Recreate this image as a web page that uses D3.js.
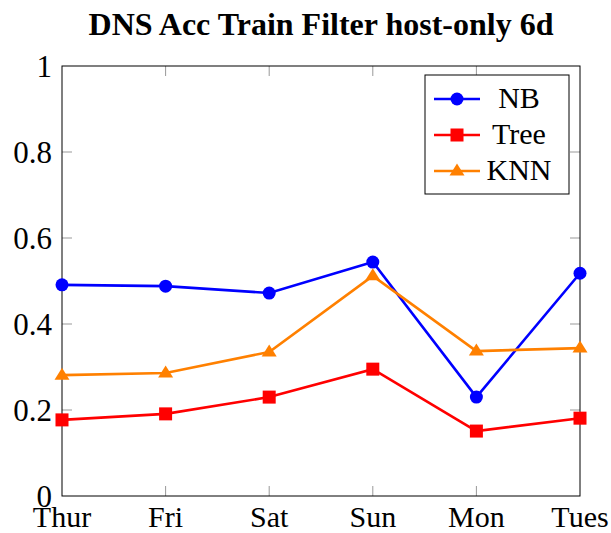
<!DOCTYPE html>
<html>
<head>
<meta charset="utf-8">
<script src="https://cdn.jsdelivr.net/npm/d3@7"></script>
<style>
  body { margin: 0; background: #fff; }
  text { font-family: "Liberation Serif", "DejaVu Serif", serif; }
</style>
</head>
<body>
<div id="chart"></div>
<script>
const days = ['Thur', 'Fri', 'Sat', 'Sun', 'Mon', 'Tues'];
const nb = [0.491, 0.488, 0.472, 0.544, 0.230, 0.518];
const tree = [0.177, 0.191, 0.230, 0.295, 0.151, 0.181];
const knn = [0.281, 0.286, 0.335, 0.512, 0.337, 0.344];
const yTicks = [0, 0.2, 0.4, 0.6, 0.8, 1];

const series = [
  { name: 'NB', values: nb, color: '#0000ff', mark: 'circle' },
  { name: 'Tree', values: tree, color: '#ff0000', mark: 'square' },
  { name: 'KNN', values: knn, color: '#ff8000', mark: 'triangle' }
];

const width = 611, height = 533;
const margin = { top: 66, right: 31, bottom: 37, left: 62 };
const innerW = width - margin.left - margin.right;
const innerH = height - margin.top - margin.bottom;

const svg = d3.select('#chart').append('svg')
  .attr('width', width)
  .attr('height', height);

const x = d3.scalePoint().domain(days).range([margin.left, width - margin.right]);
const y = d3.scaleLinear().domain([0, 1]).range([height - margin.bottom, margin.top]);

// title
svg.append('text')
  .attr('x', margin.left + innerW / 2)
  .attr('y', 35)
  .attr('text-anchor', 'middle')
  .attr('font-weight', 'bold')
  .attr('font-size', 32)
  .text('DNS Acc Train Filter host-only 6d');

// ticks (inside, both sides)
const tk = 10;
const ticks = svg.append('g').attr('stroke', '#999').attr('stroke-width', 1);
yTicks.slice(1, -1).forEach(t => {
  ticks.append('line').attr('x1', margin.left).attr('x2', margin.left + tk).attr('y1', y(t)).attr('y2', y(t));
  ticks.append('line').attr('x1', width - margin.right).attr('x2', width - margin.right - tk).attr('y1', y(t)).attr('y2', y(t));
});
days.slice(1, -1).forEach(d => {
  ticks.append('line').attr('x1', x(d)).attr('x2', x(d)).attr('y1', y(0)).attr('y2', y(0) - tk);
  ticks.append('line').attr('x1', x(d)).attr('x2', x(d)).attr('y1', y(1)).attr('y2', y(1) + tk);
});

// frame
svg.append('rect')
  .attr('x', margin.left).attr('y', margin.top)
  .attr('width', innerW).attr('height', innerH)
  .attr('fill', 'none').attr('stroke', '#000').attr('stroke-width', 1);

// tick labels
svg.append('g').selectAll('text').data(yTicks).enter().append('text')
  .attr('x', margin.left - 10)
  .attr('y', d => y(d) + 10.5)
  .attr('text-anchor', 'end')
  .attr('font-size', 31)
  .text(d => d3.format('~g')(d));

svg.append('g').selectAll('text').data(days).enter().append('text')
  .attr('x', d => x(d))
  .attr('y', height - 6)
  .attr('text-anchor', 'middle')
  .attr('font-size', 30)
  .text(d => d);

function drawMark(g, type, cx, cy, color) {
  if (type === 'circle') {
    g.append('circle').attr('cx', cx).attr('cy', cy).attr('r', 6.5).attr('fill', color);
  } else if (type === 'square') {
    g.append('rect').attr('x', cx - 6.5).attr('y', cy - 6.5).attr('width', 13).attr('height', 13).attr('fill', color);
  } else {
    const s = 7.5;
    g.append('path')
      .attr('d', `M${cx},${cy - s}L${cx + s},${cy + s * 0.6}L${cx - s},${cy + s * 0.6}Z`)
      .attr('fill', color);
  }
}

const line = d3.line().x((d, i) => x(days[i])).y(d => y(d));

series.forEach(s => {
  const g = svg.append('g');
  g.append('path')
    .datum(s.values)
    .attr('d', line)
    .attr('fill', 'none')
    .attr('stroke', s.color)
    .attr('stroke-width', 2.6);
  s.values.forEach((v, i) => drawMark(g, s.mark, x(days[i]), y(v), s.color));
});

// legend
const leg = svg.append('g');
leg.append('rect')
  .attr('x', 425).attr('y', 75).attr('width', 144).attr('height', 119)
  .attr('fill', '#fff').attr('stroke', '#000').attr('stroke-width', 1);
series.forEach((s, i) => {
  const ly = 99 + i * 36;
  leg.append('line').attr('x1', 434).attr('x2', 480).attr('y1', ly).attr('y2', ly)
    .attr('stroke', s.color).attr('stroke-width', 2.6);
  drawMark(leg, s.mark, 457, ly, s.color);
  leg.append('text')
    .attr('x', 519).attr('y', ly + 9)
    .attr('text-anchor', 'middle')
    .attr('font-size', 30)
    .text(s.name);
});
</script>
</body>
</html>
